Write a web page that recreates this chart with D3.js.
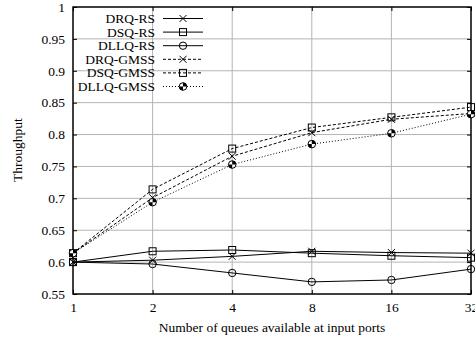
<!doctype html>
<html>
<head>
<script src="https://cdnjs.cloudflare.com/ajax/libs/d3/7.8.5/d3.min.js"></script>
<style>
  body { margin: 0; background: #fff; }
  text { font-family: "Liberation Serif", "Times New Roman", serif; font-size: 13.5px; fill: #000; }
</style>
</head>
<body>
<svg width="475" height="340"></svg>
<script>
var queues = [1, 2, 4, 8, 16, 32];
var yTicks = [0.55, 0.6, 0.65, 0.7, 0.75, 0.8, 0.85, 0.9, 0.95, 1];

var drqRS    = [0.600, 0.603, 0.609, 0.617, 0.615, 0.614];
var dsqRS    = [0.600, 0.617, 0.619, 0.614, 0.610, 0.607];
var dllqRS   = [0.600, 0.597, 0.583, 0.569, 0.572, 0.589];
var drqGMSS  = [0.614, 0.701, 0.766, 0.803, 0.824, 0.833];
var dsqGMSS  = [0.614, 0.714, 0.778, 0.811, 0.827, 0.843];
var dllqGMSS = [0.614, 0.694, 0.753, 0.785, 0.802, 0.832];

var series = [
  { name: "DRQ-RS", values: drqRS, dash: null, marker: "x" },
  { name: "DSQ-RS", values: dsqRS, dash: null, marker: "square" },
  { name: "DLLQ-RS", values: dllqRS, dash: null, marker: "circle" },
  { name: "DRQ-GMSS", values: drqGMSS, dash: "3,2", marker: "x" },
  { name: "DSQ-GMSS", values: dsqGMSS, dash: "3,2", marker: "square" },
  { name: "DLLQ-GMSS", values: dllqGMSS, dash: "1,2", marker: "quad" }
];

var svg = d3.select("svg");
var pLeft = 73, pRight = 471, pTop = 7, pBottom = 294;

var x = d3.scaleLog().base(2).domain([1, 32]).range([pLeft, pRight]);
var y = d3.scaleLinear().domain([0.55, 1]).range([pBottom, pTop]);

// grid
var grid = svg.append("g");
grid.selectAll(".gx").data(queues.slice(1, -1)).enter().append("line")
  .attr("x1", function (d) { return x(d); }).attr("x2", function (d) { return x(d); })
  .attr("y1", pTop).attr("y2", pBottom)
  .attr("stroke", "#b4b4b4").attr("stroke-width", 1);
grid.selectAll(".gy").data(yTicks.slice(1, -1)).enter().append("line")
  .attr("x1", pLeft).attr("x2", pRight)
  .attr("y1", function (d) { return y(d); }).attr("y2", function (d) { return y(d); })
  .attr("stroke", "#b4b4b4").attr("stroke-width", 1);

// axes
var fmt = function (d) { return String(+d.toFixed(2)); };
svg.append("g").attr("transform", "translate(0," + pBottom + ")")
  .call(d3.axisBottom(x).tickValues(queues).tickFormat(d3.format("d")).tickSize(-4).tickPadding(8))
  .call(function (g) { g.select(".domain").remove(); });
svg.append("g").attr("transform", "translate(0," + pTop + ")")
  .call(d3.axisTop(x).tickValues(queues).tickFormat("").tickSize(-4))
  .call(function (g) { g.select(".domain").remove(); });
svg.append("g").attr("transform", "translate(" + pLeft + ",0)")
  .call(d3.axisLeft(y).tickValues(yTicks).tickFormat(fmt).tickSize(-4).tickPadding(8))
  .call(function (g) { g.select(".domain").remove(); });
svg.append("g").attr("transform", "translate(" + pRight + ",0)")
  .call(d3.axisRight(y).tickValues(yTicks).tickFormat("").tickSize(-4))
  .call(function (g) { g.select(".domain").remove(); });
svg.selectAll("g[font-size]").attr("font-size", null).attr("font-family", null);
svg.selectAll(".tick line").attr("stroke", "#000");

svg.append("rect").attr("x", pLeft).attr("y", pTop)
  .attr("width", pRight - pLeft).attr("height", pBottom - pTop)
  .attr("fill", "none").attr("stroke", "#000").attr("stroke-width", 1.5);

svg.append("text").attr("x", (pLeft + pRight) / 2).attr("y", 332)
  .attr("text-anchor", "middle").text("Number of queues available at input ports");
svg.append("text").attr("transform", "translate(22,150) rotate(-90)")
  .attr("text-anchor", "middle").text("Throughput");

function drawMarker(g, type, cx, cy) {
  if (type === "x") {
    g.append("path").attr("d", "M" + (cx - 3.5) + "," + (cy - 3.5) + "L" + (cx + 3.5) + "," + (cy + 3.5) +
      "M" + (cx - 3.5) + "," + (cy + 3.5) + "L" + (cx + 3.5) + "," + (cy - 3.5))
      .attr("stroke", "#000").attr("stroke-width", 1);
  } else if (type === "square") {
    g.append("rect").attr("x", cx - 3.5).attr("y", cy - 3.5).attr("width", 7).attr("height", 7)
      .attr("fill", "none").attr("stroke", "#000").attr("stroke-width", 1);
  } else if (type === "circle") {
    g.append("circle").attr("cx", cx).attr("cy", cy).attr("r", 3.7)
      .attr("fill", "none").attr("stroke", "#000").attr("stroke-width", 1);
  } else {
    var r = 3.8;
    g.append("circle").attr("cx", cx).attr("cy", cy).attr("r", r)
      .attr("fill", "#fff").attr("stroke", "#000").attr("stroke-width", 1);
    g.append("path").attr("d",
      "M" + cx + "," + cy + "L" + (cx + r) + "," + cy + "A" + r + "," + r + " 0 0 0 " + cx + "," + (cy - r) + "Z" +
      "M" + cx + "," + cy + "L" + (cx - r) + "," + cy + "A" + r + "," + r + " 0 0 0 " + cx + "," + (cy + r) + "Z")
      .attr("fill", "#000");
  }
}

var line = d3.line().x(function (d, i) { return x(queues[i]); }).y(function (d) { return y(d); });

series.forEach(function (s) {
  var g = svg.append("g");
  g.append("path").datum(s.values).attr("d", line)
    .attr("fill", "none").attr("stroke", "#000").attr("stroke-width", 1)
    .attr("stroke-dasharray", s.dash);
  s.values.forEach(function (v, i) { drawMarker(g, s.marker, x(queues[i]), y(v)); });
});

// legend
var lg = svg.append("g");
series.forEach(function (s, i) {
  var ly = 18.5 + i * 13.6;
  lg.append("text").attr("x", 155).attr("y", ly + 4.5).attr("text-anchor", "end").text(s.name);
  lg.append("line").attr("x1", 163).attr("x2", 203).attr("y1", ly).attr("y2", ly)
    .attr("stroke", "#000").attr("stroke-width", 1).attr("stroke-dasharray", s.dash);
  drawMarker(lg, s.marker, 183, ly);
});
</script>
</body>
</html>
